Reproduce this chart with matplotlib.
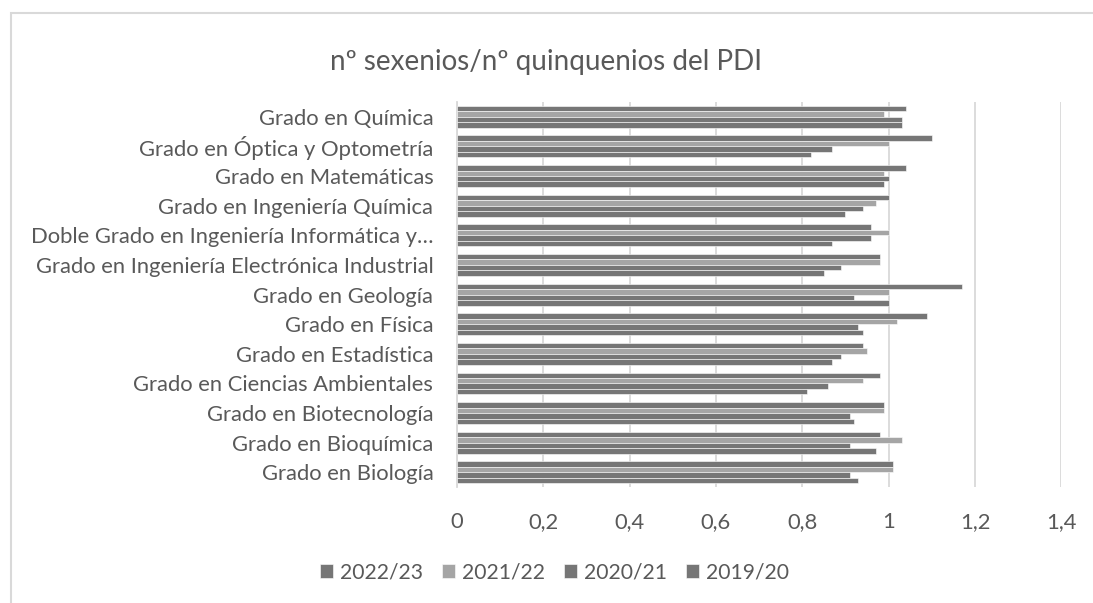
import numpy as np
import matplotlib
matplotlib.use("Agg")
from matplotlib import pyplot as plt
from matplotlib.patches import Rectangle
from matplotlib.ticker import FuncFormatter

plt.rcParams['font.family'] = ['Lato', 'DejaVu Sans']

# categories from bottom to top
categorias = [
    'Grado en Biología',
    'Grado en Bioquímica',
    'Grado en Biotecnología',
    'Grado en Ciencias Ambientales',
    'Grado en Estadística',
    'Grado en Física',
    'Grado en Geología',
    'Grado en Ingeniería Electrónica Industrial',
    'Doble Grado en Ingeniería Informática y…',
    'Grado en Ingeniería Química',
    'Grado en Matemáticas',
    'Grado en Óptica y Optometría',
    'Grado en Química',
]
v2022 = [1.01, 0.98, 0.99, 0.98, 0.94, 1.09, 1.17, 0.98, 0.96, 1.00, 1.04, 1.10, 1.04]
v2021 = [1.01, 1.03, 0.99, 0.94, 0.95, 1.02, 1.00, 0.98, 1.00, 0.97, 0.99, 1.00, 0.99]
v2020 = [0.91, 0.91, 0.91, 0.86, 0.89, 0.93, 0.92, 0.89, 0.96, 0.94, 1.00, 0.87, 1.03]
v2019 = [0.93, 0.97, 0.92, 0.81, 0.87, 0.94, 1.00, 0.85, 0.87, 0.90, 0.99, 0.82, 1.03]
series = ['2022/23', '2021/22', '2020/21', '2019/20']
colores = ['#767676', '#a5a5a5', '#767676', '#767676']
valores = [v2022, v2021, v2020, v2019]
ticks_x = [0, 0.2, 0.4, 0.6, 0.8, 1.0, 1.2, 1.4]

txt = '#595959'
fig = plt.figure(figsize=(10.93, 6.03), dpi=100)
ax = fig.add_axes([0.418, 0.192, 0.553, 0.639])

y = np.arange(len(categorias))
h = 0.185
for i, (nombre, vals, c) in enumerate(zip(series, valores, colores)):
    off = (1.5 - i) * h
    ax.barh(y + off, vals, height=h, color=c, edgecolor='white', linewidth=0.4,
            label=nombre, zorder=3)

ax.set_xlim(0, 1.4)
ax.set_ylim(-0.5, len(categorias) - 0.5)
ax.set_xticks(ticks_x)
ax.xaxis.set_major_formatter(FuncFormatter(lambda v, p: ('%g' % round(v, 1)).replace('.', ',')))
ax.set_yticks(y)
ax.set_yticklabels(categorias)
ax.tick_params(length=0, labelsize=15.8, colors=txt)
ax.tick_params(axis='x', pad=18)
ax.tick_params(axis='y', pad=17)
ax.grid(axis='x', color='#d9d9d9', linewidth=1.3, zorder=0)
for s in ['top', 'right', 'bottom']:
    ax.spines[s].set_visible(False)
ax.spines['left'].set_color('#d9d9d9')
ax.spines['left'].set_linewidth(1.3)

fig.text(0.5, 0.897, 'nº sexenios/nº quinquenios del PDI', ha='center', va='center',
         fontsize=20, color=txt)

leg = fig.legend(loc='center', bbox_to_anchor=(0.507, 0.05), ncol=4, frameon=False,
                 fontsize=15.2, handlelength=0.65, handleheight=0.65, handletextpad=0.3,
                 columnspacing=0.9)
for t in leg.get_texts():
    t.set_color(txt)

# chart border
fig.patches.append(Rectangle((11 / 1093, -0.1), 1.2, 1 - 13 / 603 + 0.1,
                             transform=fig.transFigure, fill=False,
                             edgecolor='#d9d9d9', linewidth=1.5))

fig.savefig('out.png', dpi=100)
